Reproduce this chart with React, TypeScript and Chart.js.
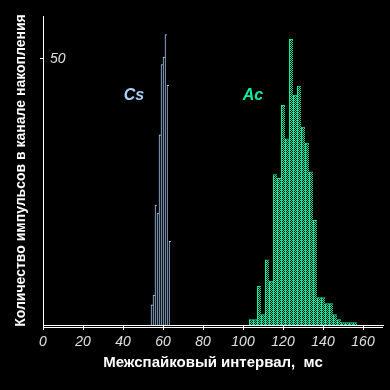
import React, { useEffect, useRef } from "react";
import { Chart, registerables } from "chart.js";

Chart.register(...registerables);

// Cs histogram: 1 ms bins (centres), counts per channel
const csBins = [54.5, 55.5, 56.5, 57.5, 58.5, 59.5, 60.5, 61.5, 62.5, 63.5];
const csCounts = [3.8, 5.6, 22.5, 21, 35.7, 48.9, 50.3, 54.5, 45, 15.7];

// Ac histogram: 2 ms bins (centres), counts per channel
const acBins = [
  104, 106, 108, 110, 112, 114, 116, 118, 120, 122, 124, 126, 128, 130,
  132, 134, 136, 138, 140, 142, 144, 146, 148, 150, 152, 154, 156,
];
const acCounts = [
  1.1, 1.1, 7.3, 2, 12.3, 8.3, 28.3, 27.6, 41.3, 35, 53.7, 43.2, 44.9, 37.2,
  34.2, 28.8, 19.7, 5.2, 5.2, 4.1, 4.1, 2, 1.1, 0.5, 0.5, 0.5, 0.5,
];

const xTicks = [0, 20, 40, 60, 80, 100, 120, 140, 160];
const yTicks = [50];
const xRange = [0, 170];
const yRange = [0, 58];

const seriesNames = ["Cs", "Ac"];
// label anchor positions in data units (ms, counts)
const labelX = [45.5, 105];
const labelY = [43, 43];

const xTitle = "Межспайковый интервал,  мс";
const yTitle = "Количество импульсов в канале накопления";

const CS_COLOR = "#a8d0f8";
const AC_COLOR = "#12eaa2";
const FONT = "'Liberation Sans', Arial, sans-serif";

function makePattern(color: string): CanvasPattern | string {
  const c = document.createElement("canvas");
  c.width = 2;
  c.height = 2;
  const g = c.getContext("2d");
  if (!g) return color;
  g.fillStyle = color;
  g.fillRect(0, 0, 1, 1);
  g.fillRect(1, 1, 1, 1);
  const p = g.createPattern(c, "repeat");
  return p || color;
}

const labelsPlugin = {
  id: "seriesLabels",
  afterDatasetsDraw(chart: any) {
    const { ctx, scales } = chart;
    const x = scales.x;
    const y = scales.y;
    ctx.save();
    ctx.font = `italic bold 16px ${FONT}`;
    ctx.textAlign = "center";
    ctx.textBaseline = "middle";
    const colors = [CS_COLOR, AC_COLOR];
    seriesNames.forEach((name, i) => {
      ctx.fillStyle = colors[i];
      ctx.fillText(name, x.getPixelForValue(labelX[i]), y.getPixelForValue(labelY[i]));
    });
    ctx.restore();
  },
  afterDraw(chart: any) {
    const { ctx, chartArea } = chart;
    ctx.save();
    ctx.strokeStyle = "#ffffff";
    ctx.lineWidth = 1;
    ctx.beginPath();
    ctx.moveTo(chartArea.left, chartArea.bottom + 2.5);
    ctx.lineTo(chartArea.right, chartArea.bottom + 2.5);
    ctx.stroke();
    ctx.restore();
  },
};

export default function App() {
  const ref = useRef<HTMLCanvasElement | null>(null);

  useEffect(() => {
    if (!ref.current) return;
    const chart = new Chart(ref.current, {
      type: "bar",
      data: {
        datasets: [
          {
            label: seriesNames[0],
            data: csBins.map((b, i) => ({ x: b, y: csCounts[i] })),
            backgroundColor: "#000000",
            borderColor: CS_COLOR,
            borderWidth: { left: 1, top: 1, right: 0, bottom: 0 },
            borderSkipped: false,
            grouped: false,
            barPercentage: 1,
            categoryPercentage: 1,
          },
          {
            label: seriesNames[1],
            data: acBins.map((b, i) => ({ x: b, y: acCounts[i] })),
            backgroundColor: makePattern(AC_COLOR) as any,
            borderColor: AC_COLOR,
            borderWidth: { left: 1, top: 1, right: 0, bottom: 0 },
            borderSkipped: false,
            grouped: false,
            barPercentage: 2,
            categoryPercentage: 1,
          },
        ] as any,
      },
      options: {
        animation: false,
        responsive: false,
        devicePixelRatio: 1,
        layout: { padding: { top: 16, right: 7, left: 0, bottom: 0 } },
        plugins: {
          legend: { display: false },
          tooltip: { enabled: false },
        },
        scales: {
          x: {
            type: "linear",
            min: xRange[0],
            max: xRange[1],
            offset: false,
            afterBuildTicks: (s: any) => {
              s.ticks = xTicks.map((v) => ({ value: v }));
            },
            afterFit: (s: any) => {
              s.height = 65;
            },
            grid: {
              display: true,
              drawOnChartArea: false,
              drawTicks: true,
              tickLength: 5,
              color: "#ffffff",
              offset: false,
            },
            border: { display: true, color: "#ffffff", width: 1 },
            ticks: {
              color: "#e0e0e0",
              padding: 4,
              maxRotation: 0,
              autoSkip: false,
              font: { family: FONT, style: "italic", size: 14 },
            },
            title: {
              display: true,
              text: xTitle,
              color: "#ffffff",
              font: { family: FONT, weight: "bold", size: 15 },
              padding: { top: 0, bottom: 18 },
            },
          },
          y: {
            type: "linear",
            min: yRange[0],
            max: yRange[1],
            afterBuildTicks: (s: any) => {
              s.ticks = yTicks.map((v) => ({ value: v }));
            },
            afterFit: (s: any) => {
              s.width = 43;
            },
            grid: {
              display: true,
              drawOnChartArea: false,
              drawTicks: true,
              tickLength: 3,
              color: "#ffffff",
            },
            border: { display: true, color: "#ffffff", width: 1 },
            ticks: {
              mirror: true,
              color: "#e0e0e0",
              padding: 7,
              font: { family: FONT, style: "italic", size: 14 },
            },
            title: {
              display: true,
              text: yTitle,
              color: "#ffffff",
              font: { family: FONT, weight: "bold", size: 14 },
              padding: { top: 12.5, bottom: 0 },
            },
          },
        },
      } as any,
      plugins: [labelsPlugin],
    });
    return () => chart.destroy();
  }, []);

  return (
    <div
      style={{
        position: "fixed",
        left: 0,
        top: 0,
        width: 390,
        height: 390,
        background: "#000000",
      }}
    >
      <canvas ref={ref} width={390} height={390} style={{ display: "block" }} />
    </div>
  );
}
